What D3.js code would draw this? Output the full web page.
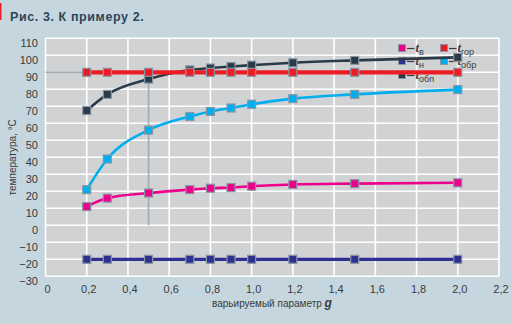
<!DOCTYPE html>
<html><head><meta charset="utf-8">
<script src="https://cdnjs.cloudflare.com/ajax/libs/d3/7.8.5/d3.min.js"></script>
<style>
html,body{margin:0;padding:0;background:#c6d6df;}
svg{display:block;font-family:"Liberation Sans Narrow","Liberation Sans",Arial,sans-serif;}
</style></head>
<body>
<svg id="chart" width="512" height="324"></svg>
<script>
const gValues = [0.2, 0.3, 0.5, 0.7, 0.8, 0.9, 1.0, 1.2, 1.5, 2.0];
const tV   = [11, 16, 19, 21, 21.8, 22.2, 23, 24, 24.5, 25];
const tN   = [-20, -20, -20, -20, -20, -20, -20, -20, -20, -20];
const tGor = [90, 90, 90, 90, 90, 90, 90, 90, 90, 90];
const tObr = [21, 39, 56, 64, 67, 69, 71.2, 74.5, 77, 79.8];
const tObp = [67.5, 77, 86, 91.4, 92.5, 93.4, 94.2, 95.6, 97, 98.8];
const xTicks = [0, 0.2, 0.4, 0.6, 0.8, 1.0, 1.2, 1.4, 1.6, 1.8, 2.0, 2.2];
const xTickLabels = ["0", "0,2", "0,4", "0,6", "0,8", "1,0", "1,2", "1,4", "1,6", "1,8", "2,0", "2,2"];
const yTicks = [-30, -20, -10, 0, 10, 20, 30, 40, 50, 60, 70, 80, 90, 100, 110];
const yTickLabels = ["−30", "−20", "−10", "0", "10", "20", "30", "40", "50", "60", "70", "80", "90", "100", "110"];
const seriesNames = ["в", "н", "обп", "гор", "обр"];
const refPoint = {g: 0.5, from: 90, to: 0};

const svg = d3.select("#chart");
const x = d3.scaleLinear().domain([0, 2.2]).range([45.5, 499]);
const y = d3.scaleLinear().domain([-30, 110]).range([276.3, 38.3]);

// left red mark
svg.append("rect").attr("x", 0).attr("y", 3).attr("width", 1.5).attr("height", 17).attr("fill", "#e8202a");

// title
svg.append("text").attr("x", 10).attr("y", 20.5)
  .attr("font-size", 12.5).attr("font-weight", "bold").attr("fill", "#2c4658")
  .attr("letter-spacing", 0.6)
  .text("Рис. 3. К примеру 2.");

// plot background
svg.append("rect").attr("x", x(0)).attr("y", y(110))
  .attr("width", x(2.2) - x(0)).attr("height", y(-30) - y(110))
  .attr("fill", "#d1d2d4");

// gridlines
const grid = svg.append("g");
grid.selectAll("line.v").data(xTicks).join("line")
  .attr("x1", d => x(d)).attr("x2", d => x(d))
  .attr("y1", y(110)).attr("y2", y(-30))
  .attr("stroke", "#fff").attr("stroke-width", 1.6);
grid.selectAll("line.h").data(yTicks).join("line")
  .attr("x1", x(0)).attr("x2", x(2.2))
  .attr("y1", d => y(d)).attr("y2", d => y(d))
  .attr("stroke", "#fff").attr("stroke-width", 1.6);

// axes tick labels
const xAxis = d3.axisBottom(x).tickValues(xTicks).tickSize(0).tickPadding(0)
  .tickFormat((d, i) => xTickLabels[i]);
const gx = svg.append("g").attr("transform", `translate(1.5,${y(-30) + 17})`).call(xAxis);
gx.select(".domain").remove();
gx.selectAll("text").attr("font-size", 11).attr("fill", "#3a3a3a").attr("font-family", null).attr("dy", null);

const yAxis = d3.axisLeft(y).tickValues(yTicks).tickSize(0).tickPadding(0)
  .tickFormat((d, i) => yTickLabels[i]);
const gy = svg.append("g").attr("transform", `translate(38,5)`).call(yAxis);
gy.select(".domain").remove();
gy.selectAll("text").attr("font-size", 11).attr("fill", "#3a3a3a").attr("font-family", null);

// axis titles
svg.append("text").attr("transform", `translate(16,${y(40)}) rotate(-90)`)
  .attr("text-anchor", "middle").attr("font-size", 10).attr("fill", "#3a3a3a")
  .text("температура, °С");
const xt = svg.append("text").attr("x", 272).attr("y", 307)
  .attr("text-anchor", "middle").attr("font-size", 10).attr("fill", "#3a3a3a");
xt.append("tspan").text("варьируемый параметр ");
xt.append("tspan").attr("font-weight", "bold").attr("font-style", "italic").attr("font-size", 12)
  .attr("font-family", "Liberation Sans, Arial").text("g");

// reference lines
svg.append("line").attr("x1", x(0)).attr("x2", x(gValues[0]))
  .attr("y1", y(refPoint.from)).attr("y2", y(refPoint.from))
  .attr("stroke", "#a3abb1").attr("stroke-width", 1.6);
svg.append("line").attr("x1", x(refPoint.g)).attr("x2", x(refPoint.g))
  .attr("y1", y(refPoint.from)).attr("y2", y(refPoint.to))
  .attr("stroke", "#a3abb1").attr("stroke-width", 1.6);

// legend (drawn under the lines)
const legendItems = [
  {name: seriesNames[0], color: "#ec008c", lx: 402, ly: 48},
  {name: seriesNames[3], color: "#ed1c24", lx: 444, ly: 48},
  {name: seriesNames[1], color: "#2e3192", lx: 402, ly: 61},
  {name: seriesNames[4], color: "#00aeef", lx: 444, ly: 61},
  {name: seriesNames[2], color: "#2b3a48", lx: 402, ly: 75}
];
const lg = svg.append("g");
legendItems.forEach(it => {
  lg.append("rect").attr("x", it.lx - 3.5).attr("y", it.ly - 3.5).attr("width", 7).attr("height", 7)
    .attr("fill", it.color).attr("stroke", "#8797a3").attr("stroke-width", 1);
  lg.append("line").attr("x1", it.lx + 5).attr("x2", it.lx + 12.5)
    .attr("y1", it.ly + 0.5).attr("y2", it.ly + 0.5)
    .attr("stroke", "#3a3a3a").attr("stroke-width", 1.2);
  const t = lg.append("text").attr("x", it.lx + 13.5).attr("y", it.ly + 4).attr("fill", "#3a3a3a").attr("font-size", 11);
  t.append("tspan").attr("font-weight", "bold").attr("font-style", "italic").attr("font-size", 12.5)
    .attr("font-family", "Liberation Serif, serif").text("t");
  t.append("tspan").attr("font-size", 9).attr("dy", 3).text(it.name);
});

// series
const series = [
  {vals: tN, color: "#2e3192", w: 3.2},
  {vals: tV, color: "#ec008c", w: 2.6},
  {vals: tObr, color: "#00aeef", w: 2.6},
  {vals: tObp, color: "#2b3a48", w: 2.6},
  {vals: tGor, color: "#ed1c24", w: 4.2}
];
const line = d3.line().x(d => x(d[0])).y(d => y(d[1])).curve(d3.curveMonotoneX);
series.forEach(s => {
  const pts = gValues.map((g, i) => [g, s.vals[i]]);
  svg.append("path").attr("d", line(pts)).attr("fill", "none")
    .attr("stroke", s.color).attr("stroke-width", s.w);
});
series.forEach(s => {
  const pts = gValues.map((g, i) => [g, s.vals[i]]);
  svg.append("g").selectAll("rect").data(pts).join("rect")
    .attr("x", d => x(d[0]) - 4).attr("y", d => y(d[1]) - 4)
    .attr("width", 8).attr("height", 8)
    .attr("fill", s.color).attr("stroke", "#8797a3").attr("stroke-width", 1.2);
});
</script>
</body></html>
